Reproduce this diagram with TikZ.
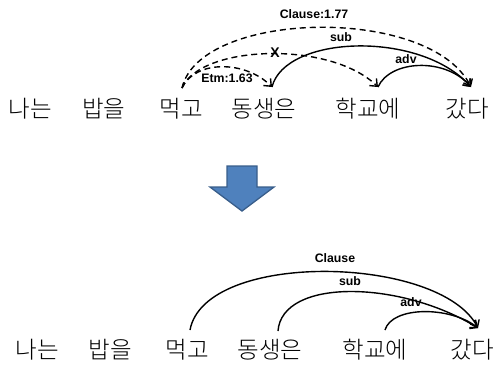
\documentclass[tikz,border=0pt]{standalone}
\usepackage{fontspec}
\newfontfamily\kor{Noto Sans CJK KR Light}
\newfontfamily\lab{Liberation Sans}
\usetikzlibrary{arrows.meta}
\definecolor{arrowfill}{HTML}{4F81BD}
\definecolor{arrowline}{HTML}{385D8A}
\begin{document}
\begin{tikzpicture}[x=1pt,y=-1pt,
  word/.style={font=\kor\fontsize{23.5}{24}\selectfont, inner sep=0pt},
  lbl/.style={font=\lab\bfseries\fontsize{12.3}{13}\selectfont, inner sep=0pt},
  dep/.style={line width=1.4pt, -{Straight Barb[length=6pt,width=10pt]}},
  cand/.style={dep, dash pattern=on 6pt off 4pt},
]
\useasboundingbox (0,0) rectangle (499,367);

% sentence before revision
\node[word] (t1) at (30,109) {나는};
\node[word] (t2) at (104,109) {밥을};
\node[word] (t3) at (181,109) {먹고};
\node[word] (t4) at (264,109) {동생은};
\node[word] (t5) at (368,109) {학교에};
\node[word] (t6) at (467,109) {갔다};

\coordinate (t3a) at (182,88);
\coordinate (t4a) at (272,87);
\coordinate (t5a) at (378,87);
\coordinate (t6a) at (471,87);

% candidate dependencies (dashed) and fixed ones (solid)
\draw[cand] (t3a) .. controls (200,10) and (430,5) .. (t6a);
\draw[cand] (t3a) .. controls (200,45) and (330,40) .. (t5a);
\draw[cand] (t3a) .. controls (195,60) and (245,60) .. (t4a);
\draw[dep] (t4a) .. controls (285,35) and (420,30) .. (t6a);
\draw[dep] (t5a) .. controls (390,60) and (445,57) .. (t6a);

\node[lbl] (lc1) at (314,14) {Clause:1.77};
\node[lbl] (ls1) at (341,37) {sub};
\node[lbl] (la1) at (406,59) {adv};
\node[lbl] (le1) at (227,78) {Etm:1.63};
\node[lbl, font=\lab\bfseries\fontsize{14}{14}\selectfont] (lx1) at (275,53) {X};

% transformation arrow
\draw[fill=arrowfill, draw=arrowline, line width=1.3pt, line join=miter]
  (227,166) -- (257,166) -- (257,187) -- (274,187) -- (242,211)
  -- (210,187) -- (227,187) -- cycle;

% sentence after revision
\node[word] (b1) at (37,350) {나는};
\node[word] (b2) at (110,350) {밥을};
\node[word] (b3) at (187,350) {먹고};
\node[word] (b4) at (270,350) {동생은};
\node[word] (b5) at (375,350) {학교에};
\node[word] (b6) at (472,350) {갔다};

\coordinate (b3a) at (190,330);
\coordinate (b4a) at (278,331);
\coordinate (b5a) at (385,330);
\coordinate (b6a) at (478,328);

\draw[dep] (b3a) .. controls (205,250) and (440,255) .. (b6a);
\draw[dep] (b4a) .. controls (282,278) and (400,280) .. (b6a);
\draw[dep] (b5a) .. controls (392,306) and (450,306) .. (b6a);

\node[lbl] (lc2) at (335,258) {Clause};
\node[lbl] (ls2) at (350,281) {sub};
\node[lbl] (la2) at (411,302) {adv};
\end{tikzpicture}
\end{document}
